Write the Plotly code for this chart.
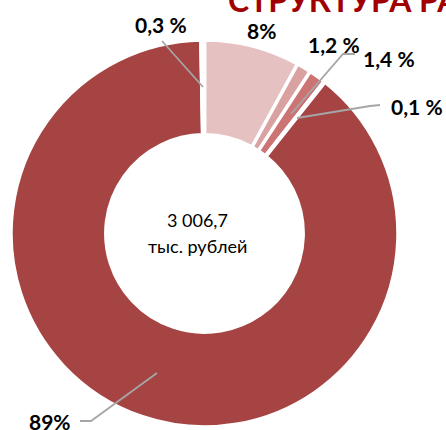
import plotly.graph_objects as go

W, H = 446, 430

# data (share of total, %)
labels = ["8%", "1,2 %", "1,4 %", "0,1 %", "89%", "0,3 %"]
values = [8, 1.2, 1.4, 0.1, 89, 0.3]
colors = ["#E6C1C2", "#DAA1A1", "#CB7473", "#A54442", "#A54442", "#FFFFFF"]
total_text = ["3 006,7", "тыс. рублей"]
title_text = "СТРУКТУРА РАСХОДОВ"


def px(x):
    return x / W


def py(y):
    return 1 - y / H


fig = go.Figure()
fig.add_trace(go.Pie(
    values=values,
    labels=labels,
    sort=False,
    direction="clockwise",
    rotation=0,
    hole=0.51,
    textinfo="none",
    hoverinfo="label+value",
    marker=dict(colors=colors, line=dict(color="white", width=3.5)),
    domain=dict(x=[px(11), px(398)], y=[py(427), py(40)]),
    showlegend=False,
))

# label positions (px) and leader lines
label_pos = {
    "8%": (261, 30),
    "1,2 %": (334, 45),
    "1,4 %": (389, 58),
    "0,1 %": (417, 106),
    "89%": (50, 421),
    "0,3 %": (161, 24),
}
leaders = [
    [(162, 41), (203, 87)],
    [(355, 54), (343, 54), (291, 114)],
    [(380, 105), (370, 106), (297, 118)],
    [(80, 421), (91, 421), (157, 373)],
]

annotations = []
for lab in labels:
    x, y = label_pos[lab]
    annotations.append(dict(
        x=px(x), y=py(y), xref="paper", yref="paper", text=lab, showarrow=False,
        xanchor="center", yanchor="middle",
        font=dict(family="Lato", size=21, color="#000000", weight="bold"),
    ))

# centre text
annotations.append(dict(x=px(197), y=py(220), xref="paper", yref="paper", text=total_text[0],
                        showarrow=False, xanchor="center", yanchor="middle",
                        font=dict(family="Lato", size=18, color="#000000")))
annotations.append(dict(x=px(197), y=py(246), xref="paper", yref="paper", text=total_text[1],
                        showarrow=False, xanchor="center", yanchor="middle",
                        font=dict(family="Lato", size=18, color="#000000")))

# title, cut by the top edge
annotations.append(dict(x=px(226), y=py(21), xref="paper", yref="paper", text=title_text,
                        showarrow=False, xanchor="left", yanchor="bottom",
                        font=dict(family="Lato", size=32, color="#A00000", weight="bold")))

shapes = []
for pts in leaders:
    path = "M " + " L ".join(f"{px(a)},{py(b)}" for a, b in pts)
    shapes.append(dict(type="path", path=path, xref="paper", yref="paper",
                       line=dict(color="#A6A6A6", width=1.8)))

fig.update_layout(
    width=W, height=H,
    margin=dict(l=0, r=0, t=0, b=0),
    paper_bgcolor="white",
    plot_bgcolor="white",
    annotations=annotations,
    shapes=shapes,
)

fig.write_html("out.html", config={"displayModeBar": False},
               post_script="document.body.style.margin='0';")
